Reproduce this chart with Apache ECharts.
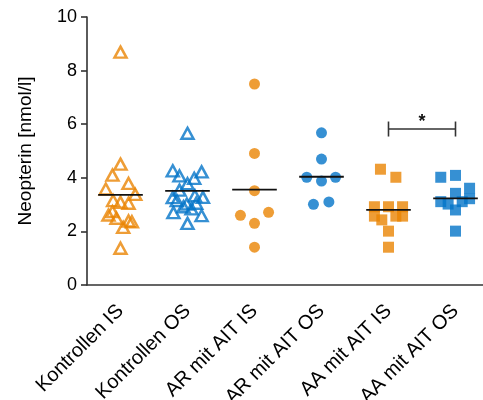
<!DOCTYPE html>
<html>
<head>
<meta charset="utf-8">
<script src="https://cdn.jsdelivr.net/npm/echarts@6/dist/echarts.min.js"></script>
<style>
  html, body { margin: 0; padding: 0; background: #fff; }
  #chart { width: 483px; height: 400px; }
</style>
</head>
<body>
<div id="chart"></div>
<script>
// Group names shown on the x axis
const categories = ['Kontrollen IS', 'Kontrollen OS', 'AR mit AIT IS', 'AR mit AIT OS', 'AA mit AIT IS', 'AA mit AIT OS'];

// Neopterin values per group (nmol/l)
const kontrollenIS = [8.69, 4.51, 4.10, 3.79, 3.58, 3.38, 3.15, 3.09, 3.05, 2.74, 2.61, 2.49, 2.39, 2.36, 2.15, 1.37];
const kontrollenOS = [5.66, 4.26, 4.07, 4.22, 3.98, 3.78, 3.54, 3.33, 3.26, 3.27, 3.15, 3.02, 3.05, 2.92, 2.84, 2.70, 2.59, 2.30];
const arIS = [7.50, 4.91, 3.52, 2.60, 2.71, 2.30, 1.41];
const arOS = [5.68, 4.70, 4.02, 4.02, 3.88, 3.01, 3.10];
const aaIS = [4.32, 4.02, 2.92, 2.92, 2.92, 2.57, 2.43, 2.57, 2.57, 2.01, 1.41];
const aaOS = [4.02, 4.09, 3.61, 3.42, 3.11, 3.02, 3.11, 3.22, 2.80, 2.01];

// Horizontal scatter offsets (in category widths) so overlapping points stay visible
const kontrollenISJitter = [0, 0, -0.12, 0.12, -0.22, 0.22, -0.11, 0, 0.12, -0.12, -0.18, -0.06, 0.12, 0.17, 0.04, 0];
const kontrollenOSJitter = [0, -0.22, -0.12, 0.21, 0.10, 0, -0.12, 0.11, -0.22, 0.23, -0.16, -0.01, 0.13, -0.06, 0.06, -0.21, 0.21, 0];
const arISJitter = [0, 0, 0, -0.21, 0.21, 0, 0];
const arOSJitter = [0, 0, -0.22, 0.21, 0, -0.12, 0.11];
const aaISJitter = [-0.12, 0.11, -0.21, 0, 0.21, -0.21, -0.10, 0.11, 0.21, 0, 0];
const aaOSJitter = [-0.22, 0, 0.21, 0, -0.22, -0.11, 0.10, 0.21, 0, 0];

// Group means drawn as horizontal bars
const means = [3.36, 3.51, 3.56, 4.04, 2.80, 3.23];

// Significance bracket: [from group, to group, level, label]
const bracket = [[4, 5, 5.82, '*']];

const yTicks = { min: 0, max: 10, interval: 2 };

const ORANGE = '#EA8504';
const BLUE = '#0474C8';

function points(values, jitter, groupIndex) {
  return values.map((v, i) => [groupIndex + jitter[i], v]);
}

const groups = [
  { values: kontrollenIS, jitter: kontrollenISJitter, color: ORANGE, symbol: 'triangle', hollow: true },
  { values: kontrollenOS, jitter: kontrollenOSJitter, color: BLUE, symbol: 'triangle', hollow: true },
  { values: arIS, jitter: arISJitter, color: ORANGE, symbol: 'circle', hollow: false },
  { values: arOS, jitter: arOSJitter, color: BLUE, symbol: 'circle', hollow: false },
  { values: aaIS, jitter: aaISJitter, color: ORANGE, symbol: 'rect', hollow: false },
  { values: aaOS, jitter: aaOSJitter, color: BLUE, symbol: 'rect', hollow: false }
];

const AXIS_COLOR = '#333';
const FONT = 'Liberation Sans, Arial, Helvetica, sans-serif';

const series = groups.map((g, gi) => ({
  type: 'scatter',
  xAxisIndex: 1,
  yAxisIndex: 0,
  data: points(g.values, g.jitter, gi),
  symbol: g.symbol,
  symbolSize: g.hollow ? [12, 11] : 11,
  itemStyle: g.hollow
    ? { color: 'rgba(255,255,255,0)', borderColor: g.color, borderWidth: 2.5 }
    : { color: g.color },
  emphasis: { disabled: true },
  z: 3
}));

// Mean bars
series.push({
  type: 'custom',
  xAxisIndex: 1,
  yAxisIndex: 0,
  data: means.map((m, i) => [i, m]),
  z: 5,
  renderItem: function (params, api) {
    const x = api.value(0), y = api.value(1);
    const a = api.coord([x - 0.333, y]);
    const b = api.coord([x + 0.333, y]);
    return {
      type: 'line',
      shape: { x1: a[0], y1: a[1], x2: b[0], y2: b[1] },
      style: { stroke: '#111', lineWidth: 1.8 }
    };
  }
});

// Significance bracket with star
series.push({
  type: 'custom',
  xAxisIndex: 1,
  yAxisIndex: 0,
  data: bracket,
  z: 5,
  renderItem: function (params, api) {
    const x1 = api.value(0), x2 = api.value(1), y = api.value(2);
    const p1 = api.coord([x1, y]);
    const p2 = api.coord([x2, y]);
    const h = 7.5;
    const style = { stroke: '#333', lineWidth: 1.6, fill: null };
    return {
      type: 'group',
      children: [
        { type: 'line', shape: { x1: p1[0], y1: p1[1], x2: p2[0], y2: p2[1] }, style: style },
        { type: 'line', shape: { x1: p1[0], y1: p1[1] - h, x2: p1[0], y2: p1[1] + h }, style: style },
        { type: 'line', shape: { x1: p2[0], y1: p2[1] - h, x2: p2[0], y2: p2[1] + h }, style: style },
        {
          type: 'text',
          style: {
            text: bracket[params.dataIndex][3],
            x: (p1[0] + p2[0]) / 2,
            y: p1[1] + 2,
            align: 'center',
            verticalAlign: 'bottom',
            font: 'bold 18px ' + FONT,
            fill: '#111'
          }
        }
      ]
    };
  }
});

const chart = echarts.init(document.getElementById('chart'), null, { renderer: 'canvas' });
chart.setOption({
  animation: false,
  backgroundColor: '#fff',
  grid: { left: 87, right: -6, top: 17, bottom: 115, containLabel: false, outerBoundsMode: 'none' },
  xAxis: [
    {
      type: 'category',
      data: categories,
      boundaryGap: true,
      axisLine: { lineStyle: { color: AXIS_COLOR, width: 1.6 } },
      axisTick: { alignWithLabel: true, length: 6, lineStyle: { color: AXIS_COLOR, width: 1.6 } },
      axisLabel: { rotate: 45, margin: 23, color: '#000', fontSize: 20, fontFamily: FONT, interval: 0 },
      splitLine: { show: false }
    },
    {
      type: 'value',
      min: -0.5,
      max: 5.5,
      show: false,
      splitLine: { show: false }
    }
  ],
  yAxis: [{
    type: 'value',
    min: yTicks.min,
    max: yTicks.max,
    interval: yTicks.interval,
    name: 'Neopterin [nmol/l]',
    nameLocation: 'middle',
    nameRotate: 90,
    nameGap: 52,
    nameTextStyle: { color: '#000', fontSize: 19, fontFamily: FONT },
    axisLine: { show: true, onZero: false, lineStyle: { color: AXIS_COLOR, width: 1.6 } },
    axisTick: { show: true, length: 6, lineStyle: { color: AXIS_COLOR, width: 1.6 } },
    axisLabel: { color: '#000', fontSize: 18, fontFamily: FONT, margin: 10 },
    splitLine: { show: false }
  }],
  series: series
});
</script>
</body>
</html>
